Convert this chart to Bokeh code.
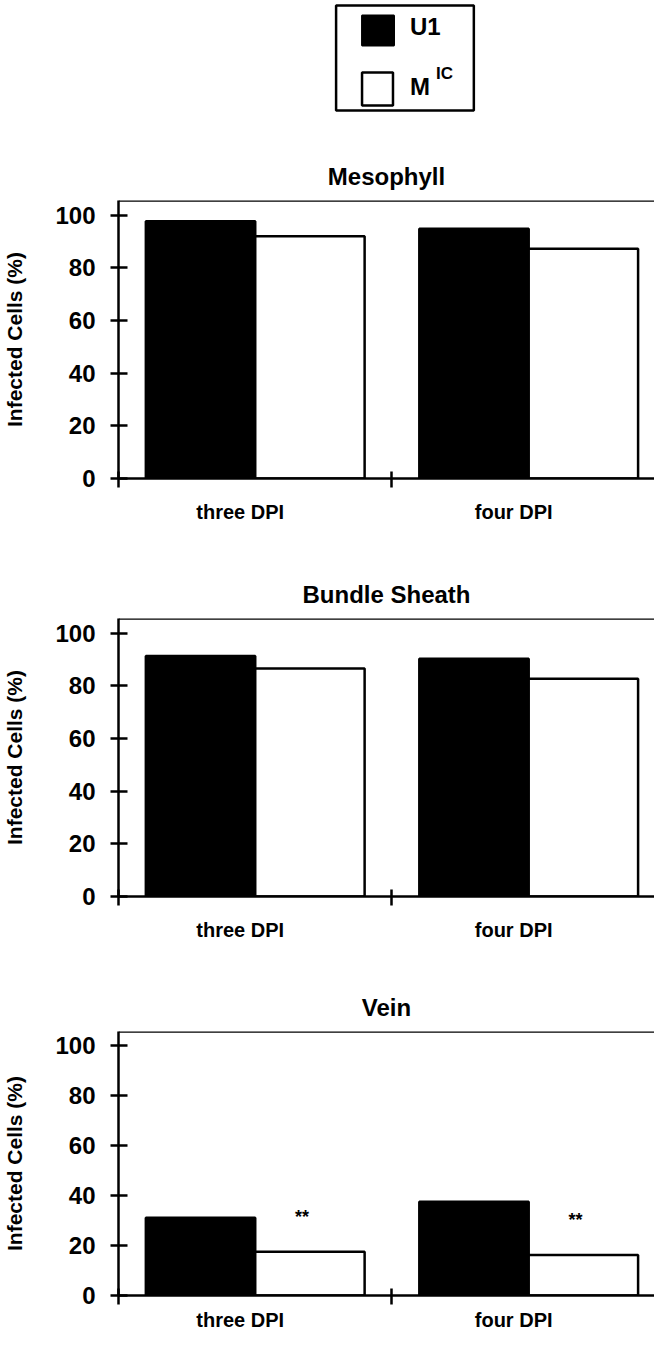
from bokeh.plotting import figure
from bokeh.models import Range1d, FixedTicker, Span, Label, Title
from bokeh.layouts import column
from bokeh.embed import file_html
from bokeh.resources import INLINE
from bokeh.core.properties import value

# ---- data ----
categories = ["three DPI", "four DPI"]
series_names = ["U1", "M", "IC"]  # legend: U1 and M^IC
mesophyll_u1 = [97.7, 94.9]
mesophyll_mic = [92.0, 87.3]
bundle_u1 = [91.4, 90.3]
bundle_mic = [86.6, 82.7]
vein_u1 = [31.1, 37.5]
vein_mic = [17.5, 16.2]
vein_marks = ["**", "**"]
y_ticks = [0, 20, 40, 60, 80, 100]

FONT = "Liberation Sans"
W = 654
LEFT = 117
Y_END = 105.6
X_END = 1.96


def make_panel(title, u1, mic, height, top, bottom, marks=None, lab_standoff=13):
    p = figure(width=W, height=height, x_range=Range1d(0, X_END), y_range=Range1d(0, Y_END),
               output_backend="svg", toolbar_location=None,
               min_border_left=LEFT, min_border_right=0,
               min_border_top=top, min_border_bottom=bottom)
    p.title = Title(text=title, align="center", text_font=FONT, text_font_size="24px",
                    text_font_style="bold", text_color="black", standoff=22)
    idx = list(range(len(categories)))
    x_u1 = [i + 0.3 for i in idx]
    x_mic = [i + 0.7 for i in idx]
    p.vbar(x=x_u1, top=u1, width=0.4, bottom=0, fill_color="black",
           line_color="black", line_width=2.5)
    p.vbar(x=x_mic, top=mic, width=0.4, bottom=0, fill_color="white",
           line_color="black", line_width=2.5)
    if marks is not None:
        p.text(x=x_mic, y=mic, text=marks, x_offset=-8, y_offset=-35,
               text_align="center", text_baseline="middle",
               text_font=value(FONT), text_font_size="18px", text_font_style="bold",
               text_color="black")

    label_pos = [i + 0.445 for i in idx]
    p.xaxis.ticker = FixedTicker(ticks=label_pos, minor_ticks=list(range(len(categories) + 1)))
    p.xaxis.major_label_overrides = {pos: c for pos, c in zip(label_pos, categories)}
    p.xaxis.major_tick_in = 0
    p.xaxis.major_tick_out = 0
    p.xaxis.minor_tick_in = 7
    p.xaxis.minor_tick_out = 9
    p.xaxis.minor_tick_line_width = 2.5
    p.xaxis.minor_tick_line_color = "black"
    p.xaxis.axis_line_width = 2.5
    p.xaxis.axis_line_color = "black"
    p.xaxis.major_label_text_font = FONT
    p.xaxis.major_label_text_font_size = "20px"
    p.xaxis.major_label_text_font_style = "bold"
    p.xaxis.major_label_text_color = "black"
    p.xaxis.major_label_standoff = lab_standoff

    p.yaxis.ticker = FixedTicker(ticks=y_ticks)
    p.yaxis.major_tick_in = 9
    p.yaxis.major_tick_out = 8
    p.yaxis.major_tick_line_width = 2.5
    p.yaxis.major_tick_line_color = "black"
    p.yaxis.minor_tick_line_color = None
    p.yaxis.axis_line_width = 2.5
    p.yaxis.axis_line_color = "black"
    p.yaxis.major_label_text_font = FONT
    p.yaxis.major_label_text_font_size = "24px"
    p.yaxis.major_label_text_font_style = "bold"
    p.yaxis.major_label_text_color = "black"
    p.yaxis.major_label_standoff = 15
    p.yaxis.axis_label = "Infected Cells (%)"
    p.yaxis.axis_label_text_font = FONT
    p.yaxis.axis_label_text_font_size = "21px"
    p.yaxis.axis_label_text_font_style = "bold"
    p.yaxis.axis_label_text_color = "black"
    p.yaxis.axis_label_standoff = 26

    p.xgrid.visible = False
    p.ygrid.visible = False
    p.outline_line_color = None
    p.add_layout(Span(location=Y_END, dimension="width", line_color="black", line_width=2.5))
    p.background_fill_color = "white"
    p.border_fill_color = "white"
    return p


# ---- legend figure (data units = page pixels) ----
LH = 127
lg = figure(width=W, height=LH, x_range=Range1d(8 + LEFT, 8 + W), y_range=Range1d(8 + LH, 8),
            output_backend="svg", toolbar_location=None,
            min_border_left=LEFT, min_border_right=0, min_border_top=0, min_border_bottom=0,
            x_axis_location=None, y_axis_location=None)
lg.title.visible = False
lg.xgrid.visible = False
lg.ygrid.visible = False
lg.outline_line_color = None
lg.quad(left=[343], right=[481], top=[13], bottom=[118], fill_color=None,
        line_color="black", line_width=2.5)
lg.quad(left=[369], right=[401], top=[23], bottom=[53], fill_color="black",
        line_color="black", line_width=2)
lg.quad(left=[369], right=[400], top=[80], bottom=[113], fill_color="white",
        line_color="black", line_width=2.5)
lg.add_layout(Label(x=417, y=34, text=series_names[0], text_font=FONT, text_font_size="24px",
                    text_font_style="bold", text_baseline="middle", text_align="left",
                    text_color="black"))
lg.add_layout(Label(x=417, y=94, text=series_names[1], text_font=FONT, text_font_size="24px",
                    text_font_style="bold", text_baseline="middle", text_align="left",
                    text_color="black"))
lg.add_layout(Label(x=443, y=81, text=series_names[2], text_font=FONT, text_font_size="17px",
                    text_font_style="bold", text_baseline="middle", text_align="left",
                    text_color="black"))

p1 = make_panel("Mesophyll", mesophyll_u1, mesophyll_mic, 415, 73, 64)
p2 = make_panel("Bundle Sheath", bundle_u1, bundle_mic, 415, 76, 61)
p3 = make_panel("Vein", vein_u1, vein_mic, 376, 74, 28, marks=vein_marks, lab_standoff=4)

layout = column(lg, p1, p2, p3, spacing=0)
open("out.html", "w").write(file_html(layout, INLINE))
